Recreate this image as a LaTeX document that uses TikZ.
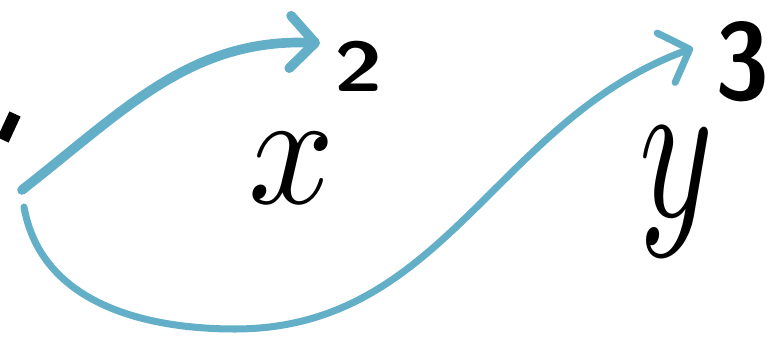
\documentclass[tikz,border=0pt]{standalone}
\usetikzlibrary{arrows.meta}
\definecolor{cArrow}{HTML}{64AFC8}

\begin{document}
\begin{tikzpicture}[
    base/.style={inner sep=0pt, text=black},
    expo/.style={inner sep=0pt, text=black, font=\sffamily\bfseries},
    link/.style={cArrow, line cap=round, line join=round,
        -{Straight Barb[length=0.5cm, width=1.05cm, line cap=round, line join=round]}},
    tick/.style={black, line width=7pt, line cap=butt}
]
\useasboundingbox (0,0) rectangle (15.58,7.02);

\node[base, xscale=8.6, yscale=9.3] (xbase) at (5.84,3.66) {$x$};
\node[expo, xscale=5.0, yscale=4.0] (xexp) at (7.18,5.70) {2};
\node[base, xscale=8.0, yscale=11.8] (ybase) at (13.52,3.18) {$y$};
\node[expo, xscale=5.6, yscale=6.2] (yexp) at (14.86,5.78) {3};

\coordinate (mark1) at (0.06,4.22);
\coordinate (mark2) at (0.30,4.74);
\draw[tick] (mark1) -- (mark2);

\coordinate (src1) at (0.44,3.22);
\coordinate (src2) at (0.48,2.88);
\coordinate (bot) at (4.7,0.44);
\coordinate (tip1) at (6.40,6.16);
\coordinate (tip2) at (13.86,6.06);

\draw[link, line width=5.5pt] (src1) to[out=38, in=178] (tip1);
\draw[link, line width=4pt] (src2) to[out=-80, in=180] (bot)
    to[out=0, in=200] (tip2);

\end{tikzpicture}
\end{document}
